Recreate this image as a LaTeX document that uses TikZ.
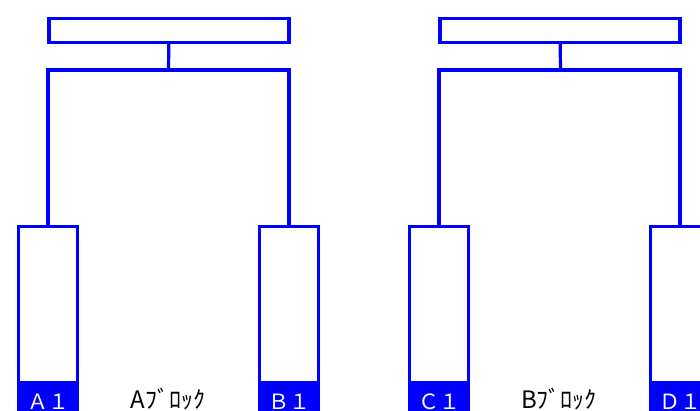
\documentclass[tikz,border=0pt]{standalone}
\usepackage{fontspec}
\newfontfamily\jpfont{Noto Sans CJK JP}
\begin{document}
\begin{tikzpicture}[x=1pt, y=-1pt, line width=3.2pt, line join=miter,
    unit/.style={rectangle, draw=blue, fill=white, minimum width=240pt, minimum height=24pt, inner sep=0pt},
    col/.style={rectangle, draw=blue, minimum width=59pt, minimum height=187pt, inner sep=0pt},
    tag/.style={rectangle, fill=blue, text=white, minimum width=62pt, minimum height=42pt, inner sep=0pt,
      font=\jpfont\fontsize{21}{21}\selectfont},
    blk/.style={inner sep=0pt, font=\jpfont\fontsize{24}{24}\selectfont}]
  \useasboundingbox (0,0) rectangle (700,411);

  % Block A
  \node[unit] (ua) at (169,30.5) {};
  \coordinate (ja) at (168.5,70);
  \node[col] (a1) at (48,320) {};
  \node[col] (b1) at (289,320) {};
  \node[tag] (ta1) at (48,402) {Ａ１};
  \node[tag] (tb1) at (289,402) {Ｂ１};
  \draw[blue] (ua) -- (ja);
  \draw[blue] (ja) -| (a1);
  \draw[blue] (ja) -| (b1);
  \node[blk] (la) at (168,399) {Aﾌﾞﾛｯｸ};

  % Block B
  \node[unit] (ub) at (560,30.5) {};
  \coordinate (jb) at (560.5,70);
  \node[col] (c1) at (439,320) {};
  \node[col] (d1) at (680,320) {};
  \node[tag] (tc1) at (439,402) {Ｃ１};
  \node[tag] (td1) at (680,402) {Ｄ１};
  \draw[blue] (ub) -- (jb);
  \draw[blue] (jb) -| (c1);
  \draw[blue] (jb) -| (d1);
  \node[blk] (lb) at (559,399) {Bﾌﾞﾛｯｸ};
\end{tikzpicture}
\end{document}
